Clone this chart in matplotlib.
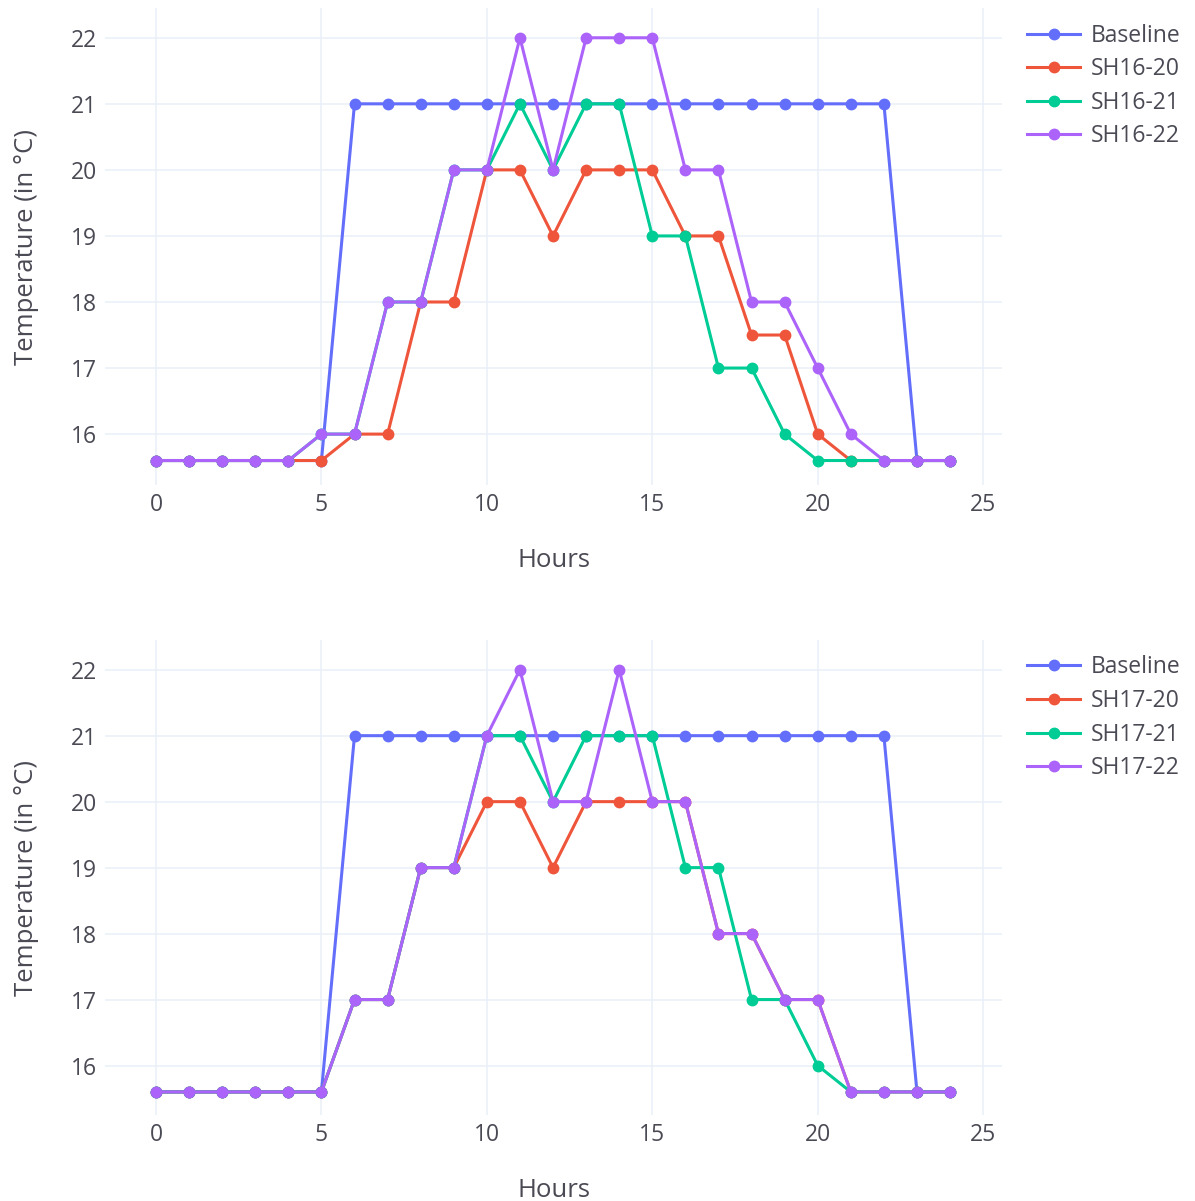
import matplotlib.pyplot as plt

hours = list(range(25))

# top panel (SH16)
baseline = [15.6] * 6 + [21] * 17 + [15.6] * 2
sh16_20 = [15.6, 15.6, 15.6, 15.6, 15.6, 15.6, 16, 16, 18, 18, 20, 20, 19,
           20, 20, 20, 19, 19, 17.5, 17.5, 16, 15.6, 15.6, 15.6, 15.6]
sh16_21 = [15.6, 15.6, 15.6, 15.6, 15.6, 16, 16, 18, 18, 20, 20, 21, 20,
           21, 21, 19, 19, 17, 17, 16, 15.6, 15.6, 15.6, 15.6, 15.6]
sh16_22 = [15.6, 15.6, 15.6, 15.6, 15.6, 16, 16, 18, 18, 20, 20, 22, 20,
           22, 22, 22, 20, 20, 18, 18, 17, 16, 15.6, 15.6, 15.6]

# bottom panel (SH17)
sh17_20 = [15.6, 15.6, 15.6, 15.6, 15.6, 15.6, 17, 17, 19, 19, 20, 20, 19,
           20, 20, 20, 20, 18, 18, 17, 17, 15.6, 15.6, 15.6, 15.6]
sh17_21 = [15.6, 15.6, 15.6, 15.6, 15.6, 15.6, 17, 17, 19, 19, 21, 21, 20,
           21, 21, 21, 19, 19, 17, 17, 16, 15.6, 15.6, 15.6, 15.6]
sh17_22 = [15.6, 15.6, 15.6, 15.6, 15.6, 15.6, 17, 17, 19, 19, 21, 22, 20,
           20, 22, 20, 20, 18, 18, 17, 17, 15.6, 15.6, 15.6, 15.6]

colors = ['#636EFA', '#EF553B', '#00CC96', '#AB63FA']
text_color = '#4a4a55'
grid_color = '#EBF0F8'

plt.rcParams['font.family'] = ['Open Sans', 'DejaVu Sans']

fig = plt.figure(figsize=(11.95, 12.01), dpi=100)
ax_top = fig.add_axes([0.0879, 0.5962, 0.7506, 0.3971])
ax_bot = fig.add_axes([0.0879, 0.0716, 0.7506, 0.3955])


def draw_panel(ax, series, labels, ylim, legend_y):
    for vals, lab, col in zip(series, labels, colors):
        ax.plot(hours, vals, color=col, linewidth=2.2, marker='o',
                markersize=7.5, label=lab)
    ax.set_xlim(-1.54, 25.57)
    ax.set_ylim(*ylim)
    ax.set_xticks([0, 5, 10, 15, 20, 25])
    ax.set_yticks([16, 17, 18, 19, 20, 21, 22])
    ax.grid(True, color=grid_color, linewidth=1.2)
    ax.set_axisbelow(True)
    for s in ax.spines.values():
        s.set_visible(False)
    ax.tick_params(length=0, labelsize=16.5, colors=text_color, pad=6)
    ax.set_xlabel('Hours', fontsize=18.5, color=text_color, labelpad=22)
    ax.set_ylabel('Temperature (in °C)', fontsize=18.5, color=text_color,
                  labelpad=23)
    ax.legend(loc='upper left', bbox_to_anchor=(0.852, legend_y),
              bbox_transform=fig.transFigure, frameon=False, fontsize=16.5,
              handlelength=2.3, handletextpad=0.45, labelspacing=0.42,
              labelcolor=text_color, borderaxespad=0)


draw_panel(ax_top, [baseline, sh16_20, sh16_21, sh16_22],
           ['Baseline', 'SH16-20', 'SH16-21', 'SH16-22'],
           (15.23, 22.45), 0.988)
draw_panel(ax_bot, [baseline, sh17_20, sh17_21, sh17_22],
           ['Baseline', 'SH17-20', 'SH17-21', 'SH17-22'],
           (15.25, 22.45), 0.462)

fig.savefig('out.png', dpi=100, facecolor='white')
